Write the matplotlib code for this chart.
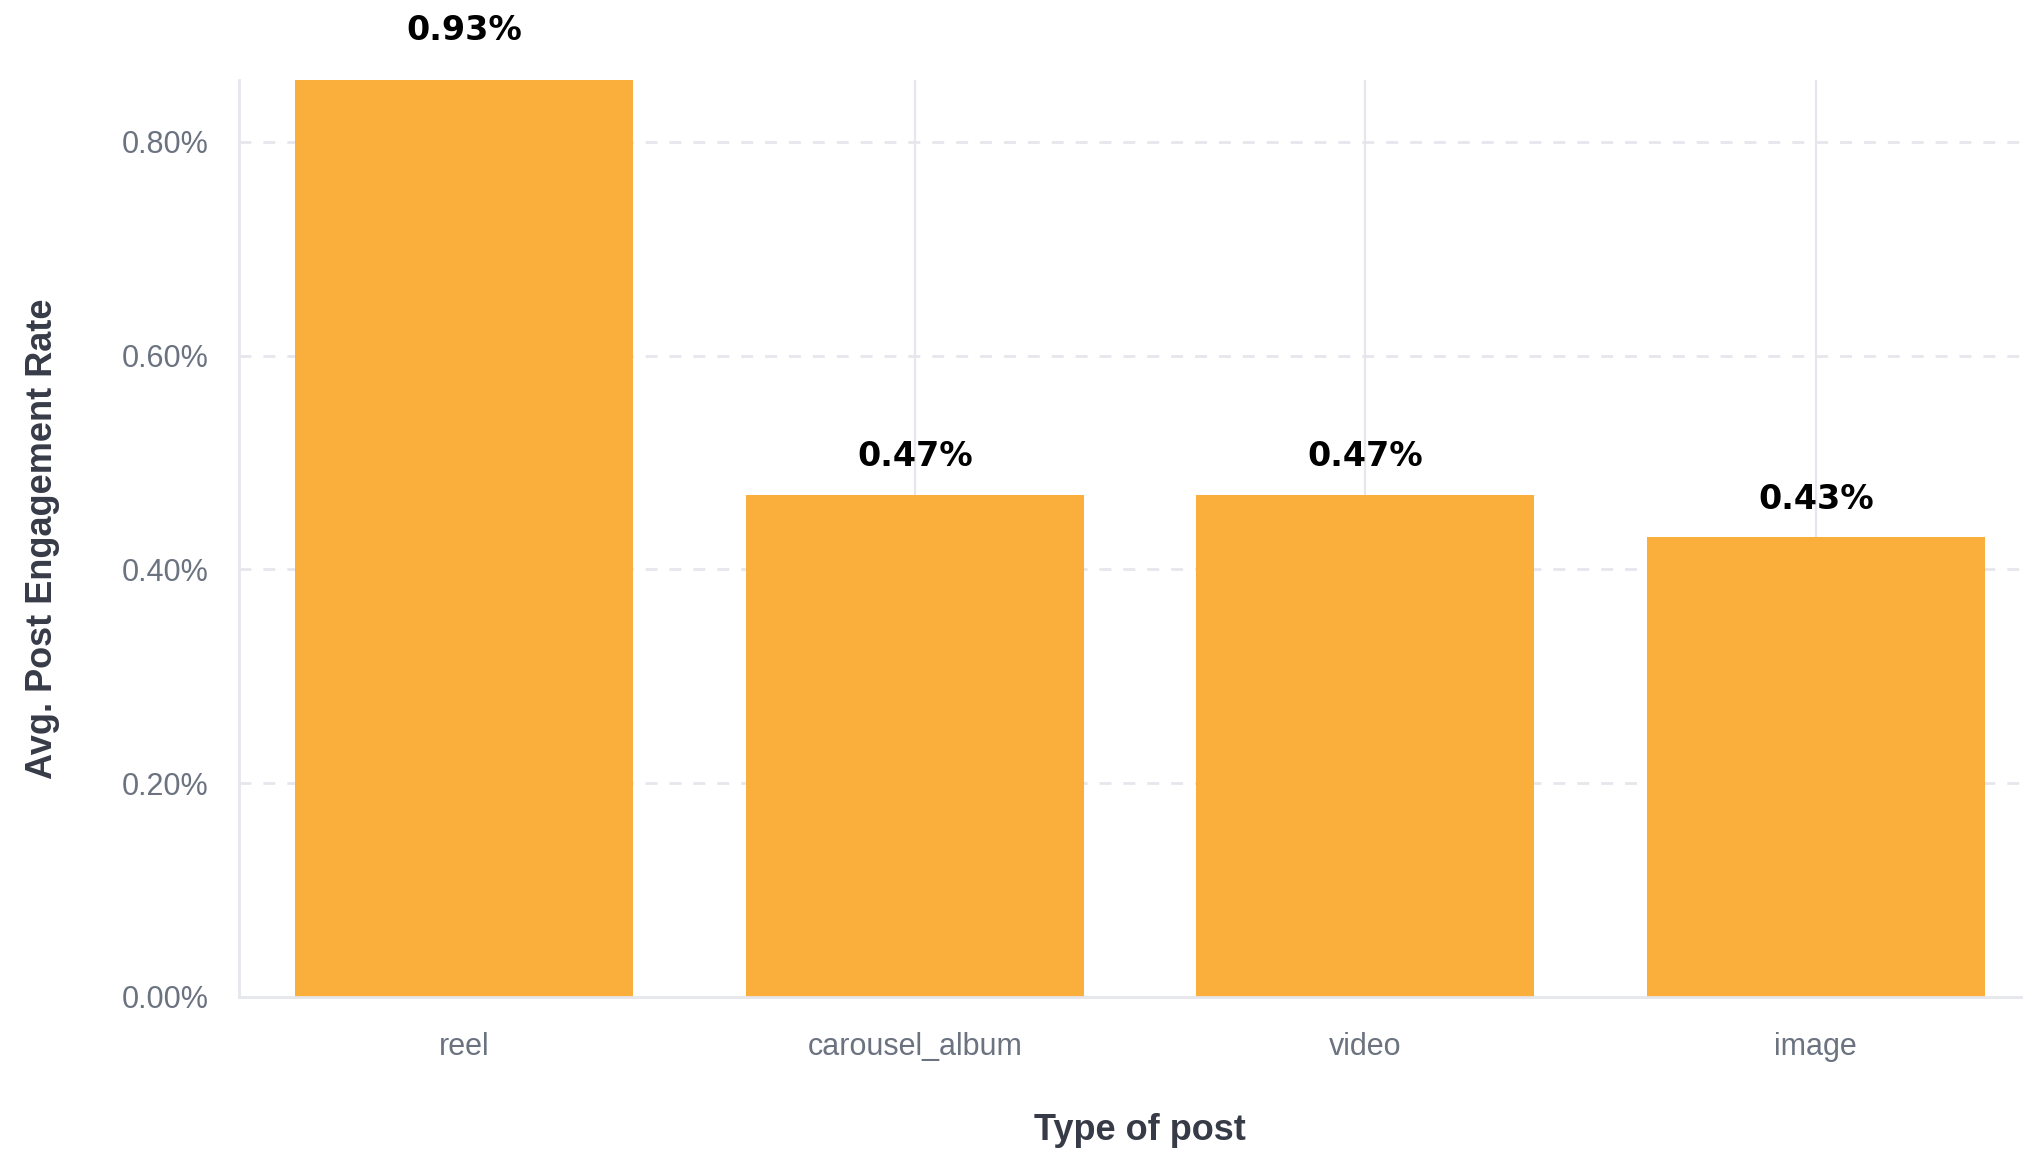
import matplotlib
matplotlib.use("Agg")
import matplotlib.pyplot as plt
from matplotlib.ticker import FuncFormatter

# Average engagement rate per post type (percent)
post_types = ["reel", "carousel_album", "video", "image"]
engagement_rate = [0.93, 0.47, 0.47, 0.43]
value_labels = ["0.93%", "0.47%", "0.47%", "0.43%"]
y_ticks = [0.0, 0.2, 0.4, 0.6, 0.8]

BAR_COLOR = "#FAAE3C"
GRID_COLOR = "#E6E7EC"
TICK_COLOR = "#6B7280"
LABEL_COLOR = "#363B47"
UI_FONT = "Liberation Sans"

plt.rcParams["lines.scale_dashes"] = False

W, H = 2024, 1151
fig = plt.figure(figsize=(W / 100, H / 100), dpi=100)
left, right, top, bottom = 239, 2041, 80, 997
ax = fig.add_axes([left / W, 1 - bottom / H, (right - left) / W, (bottom - top) / H])

y_max = 0.858
ax.set_xlim(-0.5, len(post_types) - 0.5)
ax.set_ylim(0, y_max)

x = list(range(len(post_types)))

# grid: dashed horizontals, solid verticals at category centres
for yv in y_ticks[1:]:
    ax.axhline(yv, color=GRID_COLOR, lw=2.0, ls=(0, (8.6, 8.6)), zorder=0)
for xv in x:
    ax.axvline(xv, color=GRID_COLOR, lw=1.6, zorder=0)

ax.bar(x, engagement_rate, width=0.75, color=BAR_COLOR, zorder=2)

# value labels above bars; the clipped bar gets its label above the plot top
for xv, v, lab in zip(x, engagement_rate, value_labels):
    clipped = v > y_max
    ax.annotate(lab, xy=(xv, min(v, y_max)), xytext=(0, 50 if clipped else 38),
                textcoords="offset pixels", ha="center", va="center",
                fontsize=24, fontweight="bold", family="DejaVu Sans",
                color="black", annotation_clip=False)

for side in ("top", "right"):
    ax.spines[side].set_visible(False)
for side in ("left", "bottom"):
    ax.spines[side].set_color(GRID_COLOR)
    ax.spines[side].set_linewidth(2.0)

ax.set_xticks(x)
ax.set_xticklabels(post_types)
ax.set_yticks(y_ticks)
ax.yaxis.set_major_formatter(FuncFormatter(lambda v, _: f"{v:.2f}%"))
ax.tick_params(axis="both", length=0, colors=TICK_COLOR, labelsize=22)
ax.tick_params(axis="x", pad=25)
ax.tick_params(axis="y", pad=22)
for t in ax.get_xticklabels() + ax.get_yticklabels():
    t.set_family(UI_FONT)

ax.set_xlabel("Type of post", fontsize=26, fontweight="bold", family=UI_FONT,
              color=LABEL_COLOR, va="center")
ax.xaxis.set_label_coords(0.5, -(1131 - bottom) / (bottom - top))
ax.set_ylabel("Avg. Post Engagement Rate", fontsize=26, fontweight="bold",
              family=UI_FONT, color=LABEL_COLOR, va="center")
ax.yaxis.set_label_coords((43 - left) / (right - left), 0.5)

fig.savefig("out.png", dpi=100, facecolor="white")
